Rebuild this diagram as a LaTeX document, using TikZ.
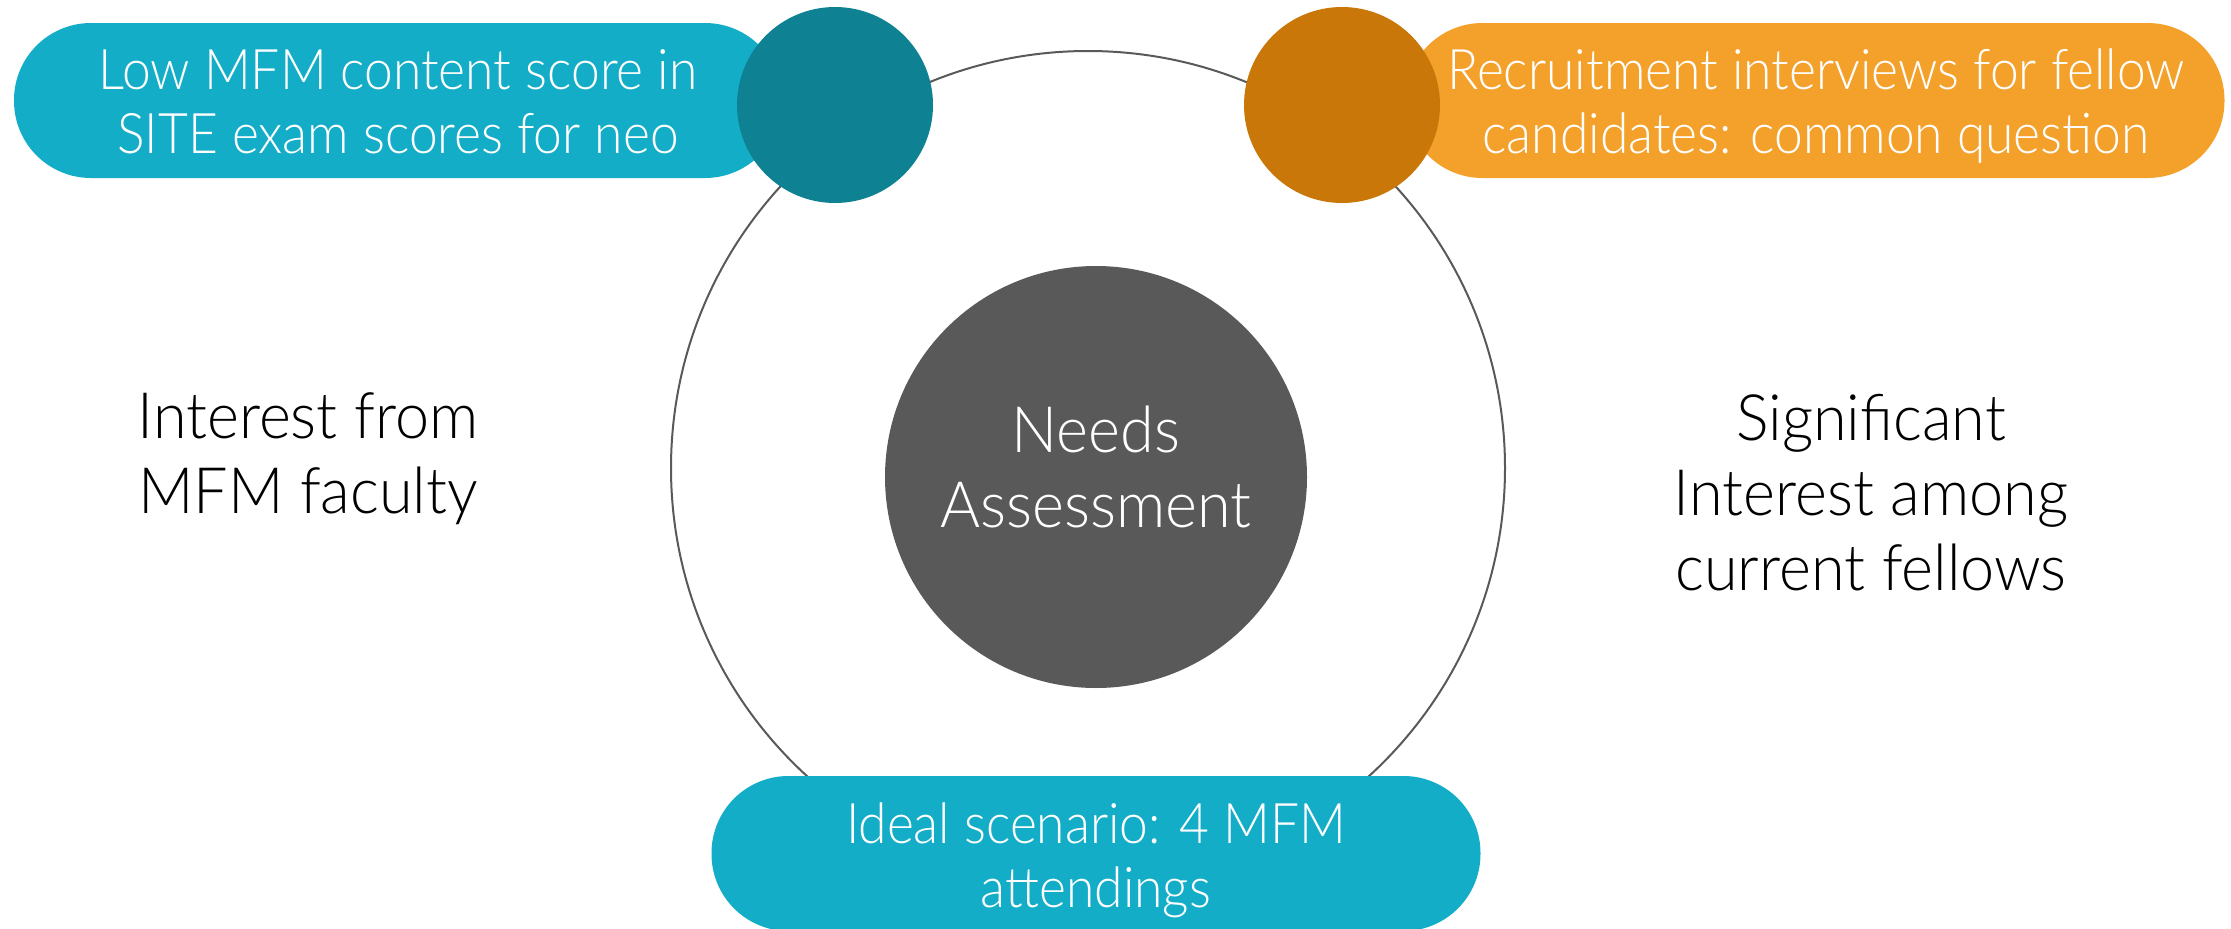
\documentclass[tikz,border=0pt]{standalone}
\usepackage{fontspec}
\setmainfont{Lato Light}
\newfontfamily\pillfont{Lato Light}[FakeStretch=0.92]
\newfontfamily\bigfont{Lato Light}[FakeStretch=0.955]
\definecolor{pillblue}{RGB}{19,173,199}
\definecolor{darkteal}{RGB}{14,129,146}
\definecolor{pillorange}{RGB}{244,161,43}
\definecolor{darkorange}{RGB}{201,119,9}
\definecolor{centergray}{RGB}{89,89,89}
\tikzset{
  pill/.style={rectangle, rounded corners=77pt, minimum height=155pt, inner sep=0pt, draw=none},
  dot/.style={circle, inner sep=0pt, draw=none, minimum size=196pt},
  pilltext/.style={anchor=base, align=center, text=white, inner sep=0pt, font=\pillfont\fontsize{56}{64}\selectfont},
  bigtext/.style={anchor=base, align=center, text=black, inner sep=0pt, font=\bigfont\fontsize{64}{75}\selectfont},
}
\begin{document}
\begin{tikzpicture}[x=1pt, y=-1pt]
\useasboundingbox (0,0) rectangle (2231,929);
% ring
\node[circle, draw=centergray, line width=2pt, minimum size=834pt, inner sep=0pt] (ring) at (1088,468) {};
% pills
\node[pill, fill=pillblue, minimum width=768pt] (p1) at (398,100.5) {};
\node[pill, fill=pillorange, minimum width=819pt] (p2) at (1815,100.5) {};
\node[pill, fill=pillblue, minimum width=769pt] (p3) at (1096,853.5) {};
% dots
\node[dot, fill=darkteal] (d1) at (835,105) {};
\node[dot, fill=darkorange] (d2) at (1342,105) {};
% center
\node[circle, fill=centergray, minimum size=422pt, inner sep=0pt] (core) at (1096,477) {};
% texts (base = baseline of last line)
\node[pilltext] (t1) at (398,153) {Low MFM content score in\\SITE exam scores for neo};
\node[pilltext] (t2) at (1816,153) {Recruitment interviews for fellow\\candidates: common question};
\node[pilltext] (t3) at (1096,907) {Ideal scenario: 4 MFM\\attendings};
\node[bigtext, text=white] (t4) at (1096,527) {Needs\\Assessment};
\node[bigtext] (t5) at (308,513) {Interest from\\MFM faculty};
\node[bigtext] (t6) at (1871,590) {Significant\\Interest among\\current fellows};
\end{tikzpicture}
\end{document}
